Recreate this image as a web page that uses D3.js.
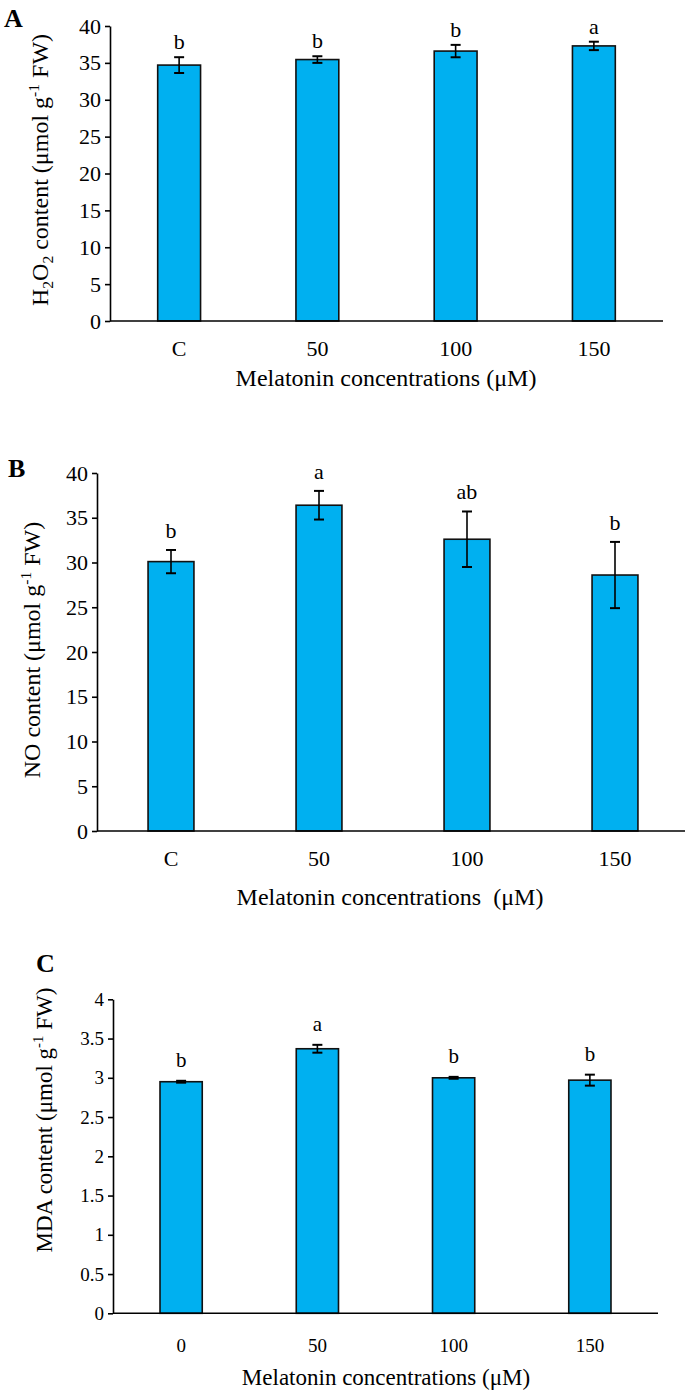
<!DOCTYPE html>
<html><head><meta charset="utf-8">
<script src="https://cdn.jsdelivr.net/npm/d3@7"></script>
<style>
html,body{margin:0;padding:0;background:#fff;}
svg{display:block;font-family:"Liberation Serif","Times New Roman",serif;}
</style></head>
<body>
<svg id="chart" width="685" height="1390"></svg>
<script>
// ---- data ----
const catsA = ["C", "50", "100", "150"];
const valsA = [34.7, 35.45, 36.6, 37.3];
const errA  = [1.07, 0.45, 0.84, 0.57];
const letA  = ["b", "b", "b", "a"];
const ticksA = [0, 5, 10, 15, 20, 25, 30, 35, 40];

const catsB = ["C", "50", "100", "150"];
const valsB = [30.1, 36.4, 32.6, 28.6];
const errB  = [1.3, 1.6, 3.1, 3.7];
const letB  = ["b", "a", "ab", "b"];
const ticksB = [0, 5, 10, 15, 20, 25, 30, 35, 40];

const catsC = ["0", "50", "100", "150"];
const valsC = [2.95, 3.37, 3.00, 2.97];
const errC  = [0.012, 0.05, 0.012, 0.07];
const letC  = ["b", "a", "b", "b"];
const ticksC = [0, 0.5, 1, 1.5, 2, 2.5, 3, 3.5, 4];

const svg = d3.select("#chart");
const BLUE = "#00B0F0";

function panel(o) {
  const g = svg.append("g");
  const x = d3.scaleBand().domain(o.cats).range([o.x0, o.x1]).paddingInner(0.69).paddingOuter(0.345);
  const y = d3.scaleLinear().domain([0, o.ymax]).range([o.yb, o.yt]);

  // y axis
  const ya = d3.axisLeft(y).tickValues(o.ticks).tickSize(5).tickSizeOuter(0)
    .tickFormat(d => String(d));
  const yg = g.append("g").attr("transform", `translate(${o.x0},0)`).call(ya);
  yg.select(".domain").attr("stroke", "#000").attr("stroke-width", 1.6);
  yg.selectAll(".tick line").attr("stroke", "#000").attr("stroke-width", 1.6);
  yg.selectAll(".tick text").attr("font-size", o.tickFs).attr("fill", "#000")
    .attr("font-family", "Liberation Serif").attr("x", -9);

  const data = o.cats.map((c, i) => ({c, v: o.vals[i], e: o.errs[i], l: o.lets[i]}));

  // bars
  g.selectAll("rect.bar").data(data).join("rect").attr("class", "bar")
    .attr("x", d => x(d.c)).attr("width", x.bandwidth())
    .attr("y", d => y(d.v)).attr("height", d => y(0) - y(d.v))
    .attr("fill", BLUE).attr("stroke", "#111").attr("stroke-width", 1.6);

  // error bars
  const cx = d => x(d.c) + x.bandwidth() / 2;
  g.selectAll("line.ev").data(data).join("line").attr("class", "ev")
    .attr("x1", cx).attr("x2", cx)
    .attr("y1", d => y(d.v + d.e)).attr("y2", d => y(d.v - d.e))
    .attr("stroke", "#000").attr("stroke-width", 1.6);
  ["+", "-"].forEach(s => {
    g.selectAll("line.cap" + (s === "+" ? "t" : "b")).data(data).join("line")
      .attr("class", "cap" + (s === "+" ? "t" : "b"))
      .attr("x1", d => cx(d) - 5).attr("x2", d => cx(d) + 5)
      .attr("y1", d => y(s === "+" ? d.v + d.e : d.v - d.e))
      .attr("y2", d => y(s === "+" ? d.v + d.e : d.v - d.e))
      .attr("stroke", "#000").attr("stroke-width", 2);
  });

  // letters
  g.selectAll("text.let").data(data).join("text").attr("class", "let")
    .attr("x", cx).attr("y", d => y(d.v + d.e) - o.letOff)
    .attr("text-anchor", "middle").attr("font-size", o.letFs).text(d => d.l);

  // x axis line
  g.append("line").attr("x1", o.x0).attr("x2", o.x1).attr("y1", o.yb).attr("y2", o.yb)
    .attr("stroke", "#000").attr("stroke-width", 1.6);

  // x tick labels
  g.selectAll("text.xt").data(o.cats).join("text").attr("class", "xt")
    .attr("x", d => x(d) + x.bandwidth() / 2).attr("y", o.xtY)
    .attr("text-anchor", "middle").attr("font-size", o.tickFs).text(d => d);

  // x title
  g.append("text").attr("x", o.xtitleX).attr("y", o.xtitleY).attr("text-anchor", "middle")
    .attr("font-size", o.titleFs).attr("xml:space", "preserve").text(o.xtitle);

  // y title
  const yt = g.append("text").attr("transform", `translate(${o.ytX},${o.ytY}) rotate(-90)`)
    .attr("text-anchor", "middle").attr("font-size", o.titleFs);
  o.ytParts.forEach(p => {
    const t = yt.append("tspan").text(p.t);
    if (p.s === "sub") t.attr("font-size", o.titleFs * 0.65).attr("dy", 5);
    if (p.s === "sup") t.attr("font-size", o.titleFs * 0.65).attr("dy", -9);
    if (p.s === "back") t.attr("dy", p.dy);
  });

  // panel letter
  g.append("text").attr("x", o.px).attr("y", o.py).attr("font-size", 26).attr("font-weight", "bold").text(o.plabel);
}

panel({
  cats: catsA, vals: valsA, errs: errA, lets: letA, ticks: ticksA, ymax: 40,
  x0: 110, x1: 663, yt: 26, yb: 321, tickFs: 22, letFs: 22, letOff: 8, titleFs: 24,
  xtY: 356, xtitle: "Melatonin concentrations (μM)", xtitleX: 386, xtitleY: 386,
  ytX: 48, ytY: 170,
  ytParts: [{t: "H"}, {t: "2", s: "sub"}, {t: "O", s: "back", dy: -5}, {t: "2", s: "sub"},
            {t: " content (μmol g", s: "back", dy: -5}, {t: "-1", s: "sup"}, {t: " FW)", s: "back", dy: 9}],
  plabel: "A", px: 4, py: 27
});

panel({
  cats: catsB, vals: valsB, errs: errB, lets: letB, ticks: ticksB, ymax: 40,
  x0: 97, x1: 689, yt: 473, yb: 831, tickFs: 22, letFs: 22, letOff: 12, titleFs: 24,
  xtY: 866, xtitle: "Melatonin concentrations  (μM)", xtitleX: 390, xtitleY: 905,
  ytX: 40, ytY: 650,
  ytParts: [{t: "NO content (μmol g"}, {t: "-1", s: "sup"}, {t: " FW)", s: "back", dy: 9}],
  plabel: "B", px: 8, py: 477
});

panel({
  cats: catsC, vals: valsC, errs: errC, lets: letC, ticks: ticksC, ymax: 4,
  x0: 113, x1: 658, yt: 999.3, yb: 1313.3, tickFs: 19, letFs: 21, letOff: 14, titleFs: 23,
  xtY: 1352, xtitle: "Melatonin concentrations (μM)", xtitleX: 386, xtitleY: 1385,
  ytX: 52, ytY: 1120,
  ytParts: [{t: "MDA content (μmol g"}, {t: "-1", s: "sup"}, {t: " FW)", s: "back", dy: 9}],
  plabel: "C", px: 36, py: 972
});
</script>
</body></html>
